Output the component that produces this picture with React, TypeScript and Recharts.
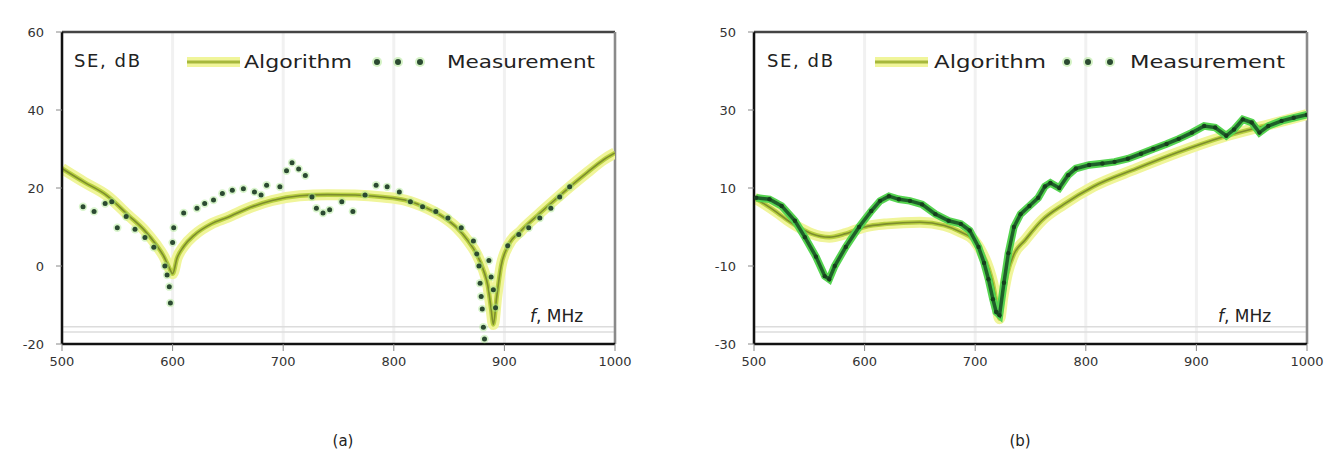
import React from 'react';
import { ComposedChart, Line, Scatter, XAxis, YAxis, ReferenceLine, CartesianGrid } from 'recharts';

const freqTicks = [500, 600, 700, 800, 900, 1000];
const seTicksA = [-20, 0, 20, 40, 60];
const seTicksB = [-30, -10, 10, 30, 50];

// (a) algorithm curve
const algFreqA = [500, 520, 540, 560, 575, 585, 592, 597, 600, 604, 610, 620, 635, 650, 670, 690, 715, 740, 765, 790, 810, 830, 845, 857, 867, 875, 881, 885, 888, 890, 893, 897, 903, 915, 930, 945, 960, 975, 990, 1000];
const algSeA = [25, 21.5, 18.2, 13, 9, 5.5, 2.5, -0.5, -2, 2, 5, 8, 10.8, 12.5, 15, 16.8, 18, 18.3, 18.2, 17.7, 16.9, 14.8, 12.5, 9.8, 6.5, 3, -1, -5, -11, -15, -8, 0, 5, 9, 13, 16.8, 20.5, 24, 27.3, 29];

// (a) measurement points
const measFreqA = [519, 529, 539, 545, 550, 558, 566, 575, 583, 593, 595, 597, 598, 600, 601, 610, 622, 629, 637, 645, 654, 664, 674, 680, 685, 697, 703, 708, 714, 720, 726, 730, 736, 742, 753, 763, 774, 784, 794, 805, 815, 826, 838, 849, 861, 872, 875, 877, 878, 879, 880, 881, 882, 886, 888, 890, 892, 903, 913, 922, 932, 942, 950, 959];
const measSeA = [15.2, 14, 16, 16.5, 9.8, 12.7, 9.4, 7.3, 4.8, 0, -2.3, -5.3, -9.5, 6, 9.8, 13.6, 14.8, 16, 16.9, 18.6, 19.4, 19.8, 19, 18.2, 20.7, 20.3, 24.4, 26.5, 24.9, 23.2, 17.7, 14.8, 13.6, 14.4, 16.5, 14, 18.2, 20.7, 20.3, 19, 16.5, 15.2, 14, 12.3, 9.8, 6.4, 3.1, 0, -4.4, -7.8, -11, -15.7, -18.7, 1.4, -2.8, -6.1, -10.7, 5.2, 8.1, 9.8, 12.3, 14.8, 17.7, 20.3];

// (b) algorithm curve
const algFreqB = [500, 510, 521, 530, 540, 552, 568, 583, 600, 620, 650, 672, 687, 699, 706, 712, 716, 719, 722, 725, 729, 735, 745, 760, 780, 807, 846, 884, 923, 961, 1000];
const algSeB = [7.5, 5.8, 3.7, 1.8, 0, -1.7, -2.6, -1.7, 0, 0.8, 1.2, 0.4, -1.3, -3.4, -6.5, -10.5, -14.5, -19, -23.5, -18, -12, -7, -3.4, 1.6, 5.8, 10.4, 15, 19.2, 23, 25.9, 28.8];

// (b) measurement curve
const measFreqB = [502, 514, 525, 537, 546, 556, 564, 568, 573, 583, 595, 606, 614, 622, 631, 641, 652, 664, 676, 687, 695, 703, 708, 712, 716, 719, 722, 726, 730, 735, 741, 749, 757, 763, 768, 776, 784, 791, 803, 815, 826, 838, 850, 861, 873, 884, 896, 907, 917, 927, 934, 942, 950, 957, 965, 977, 988, 1000];
const measSeB = [7.5, 7.1, 5.4, 1.6, -2.6, -7.6, -12.6, -13.4, -10, -5.1, 0, 4.1, 6.7, 7.9, 7.1, 6.7, 5.8, 3.3, 1.6, 0.8, -0.9, -5.1, -9.2, -13.4, -18.5, -21.8, -22.6, -14.3, -6.7, 0, 3.3, 5.4, 7.5, 10.4, 11.3, 10, 13.3, 15, 15.9, 16.3, 16.7, 17.5, 18.8, 20, 21.3, 22.6, 24.2, 25.9, 25.5, 23.4, 25, 27.6, 26.8, 24.2, 25.9, 27.2, 28, 28.8];

const toPoints = (xs: number[], ys: number[]) => xs.map((x, i) => ({ x, y: ys[i] }));

const FONT = '"DejaVu Sans", "Liberation Sans", sans-serif';
const tickStyle = { fontSize: 13, fill: '#333', fontFamily: FONT };

const MeasDot = (props: any) => {
  const { cx, cy } = props;
  if (cx == null || cy == null) return null;
  return (
    <g>
      <circle cx={cx} cy={cy} r={4.2} fill="#a9e68c" fillOpacity={0.45} />
      <circle cx={cx} cy={cy} r={2.5} fill="#2b4a31" />
    </g>
  );
};

const SmallDot = (props: any) => {
  const { cx, cy } = props;
  if (cx == null || cy == null) return null;
  return <circle cx={cx} cy={cy} r={2.2} fill="#173f1e" />;
};

interface PanelProps {
  alg: { x: number; y: number }[];
  meas: { x: number; y: number }[];
  ticks: number[];
  faint: number[];
  left: number;
  marginLeft: number;
  marginRight: number;
  joined: boolean;
}

const Panel = ({ alg, meas, ticks, faint, left, marginLeft, marginRight, joined }: PanelProps) => {
  const domain = [ticks[0], ticks[ticks.length - 1]];
  return (
    <div style={{ position: 'absolute', left, top: 0 }}>
      <ComposedChart width={668} height={400} margin={{ top: 32, right: marginRight, bottom: 26, left: marginLeft }}>
        <CartesianGrid horizontal={false} stroke="#f1f1f1" strokeWidth={3} />
        <XAxis
          type="number"
          dataKey="x"
          domain={[500, 1000]}
          ticks={freqTicks}
          height={30}
          tick={tickStyle}
          tickSize={7}
          tickMargin={6}
          axisLine={{ stroke: '#111', strokeWidth: 2.5 }}
          tickLine={{ stroke: '#888' }}
          allowDataOverflow
        />
        <YAxis
          type="number"
          dataKey="y"
          domain={domain}
          ticks={ticks}
          width={40}
          tick={tickStyle}
          tickSize={6}
          tickMargin={12}
          axisLine={{ stroke: '#111', strokeWidth: 2.5 }}
          tickLine={{ stroke: '#888' }}
          allowDataOverflow
        />
        {faint.map((v) => (
          <ReferenceLine key={v} y={v} stroke="#dcdcdc" strokeWidth={1.5} />
        ))}
        <ReferenceLine y={domain[1]} stroke="#444" strokeWidth={2.5} />
        <ReferenceLine x={1000} stroke="#8a8a8a" strokeWidth={2.5} />
        <Line data={alg} dataKey="y" type="monotone" stroke="#f0f59a" strokeWidth={11} dot={false} isAnimationActive={false} />
        <Line data={alg} dataKey="y" type="monotone" stroke="#b8d040" strokeWidth={4.5} dot={false} isAnimationActive={false} />
        <Line data={alg} dataKey="y" type="monotone" stroke="#7d8d2e" strokeWidth={1.6} dot={false} isAnimationActive={false} />
        {joined && (
          <Line data={meas} dataKey="y" type="linear" stroke="#55d450" strokeWidth={7.5} dot={false} isAnimationActive={false} />
        )}
        {joined && (
          <Line data={meas} dataKey="y" type="linear" stroke="#1f5f2a" strokeWidth={3.5} dot={false} isAnimationActive={false} />
        )}
        <Scatter data={meas} dataKey="y" shape={joined ? SmallDot : MeasDot} isAnimationActive={false} />
      </ComposedChart>
    </div>
  );
};

const LegendBits = ({ se, lineX, algX, algW, dots, measX, measW, fX, cap }: any) => (
  <g>
    <text x={se} y={67} fontSize={18} fill="#222" fontFamily={FONT} textLength={66} lengthAdjust="spacing">SE, dB</text>
    <line x1={lineX} y1={62} x2={lineX + 53} y2={62} stroke="#f0f59a" strokeWidth={10} />
    <line x1={lineX} y1={62} x2={lineX + 53} y2={62} stroke="#a6b83c" strokeWidth={3} />
    <text x={algX} y={68} fontSize={18} fill="#222" fontFamily={FONT} textLength={algW} lengthAdjust="spacingAndGlyphs">Algorithm</text>
    {dots.map((d: number) => (
      <g key={d}>
        <circle cx={d} cy={62} r={5} fill="#a9e68c" fillOpacity={0.5} />
        <circle cx={d} cy={62} r={3} fill="#2b4a31" />
      </g>
    ))}
    <text x={measX} y={68} fontSize={18} fill="#222" fontFamily={FONT} textLength={measW} lengthAdjust="spacingAndGlyphs">Measurement</text>
    <text x={fX} y={322} fontSize={17} fill="#222" fontFamily={FONT}>
      <tspan fontStyle="italic">f</tspan>
      <tspan>, MHz</tspan>
    </text>
    <text x={cap} y={446} fontSize={15} fill="#222" fontFamily={FONT} textAnchor="middle">{cap < 668 ? '(a)' : '(b)'}</text>
  </g>
);

export default function App() {
  return (
    <div style={{ position: 'absolute', left: 0, top: 0, width: 1336, height: 462, background: '#fff' }}>
      <Panel
        alg={toPoints(algFreqA, algSeA)}
        meas={toPoints(measFreqA, measSeA)}
        ticks={seTicksA}
        faint={[-15.6, -16.9]}
        left={0}
        marginLeft={22}
        marginRight={53}
        joined={false}
      />
      <Panel
        alg={toPoints(algFreqB, algSeB)}
        meas={toPoints(measFreqB, measSeB)}
        ticks={seTicksB}
        faint={[-25.6, -26.9]}
        left={668}
        marginLeft={46}
        marginRight={29}
        joined={true}
      />
      <svg width={1336} height={462} style={{ position: 'absolute', left: 0, top: 0, pointerEvents: 'none' }}>
        <LegendBits se={74} lineX={187} algX={244} algW={108} dots={[377, 398, 420]} measX={447} measW={148} fX={530} cap={343} />
        <LegendBits se={767} lineX={875} algX={934} algW={112} dots={[1067, 1088, 1110]} measX={1130} measW={155} fX={1218} cap={1020} />
      </svg>
    </div>
  );
}
